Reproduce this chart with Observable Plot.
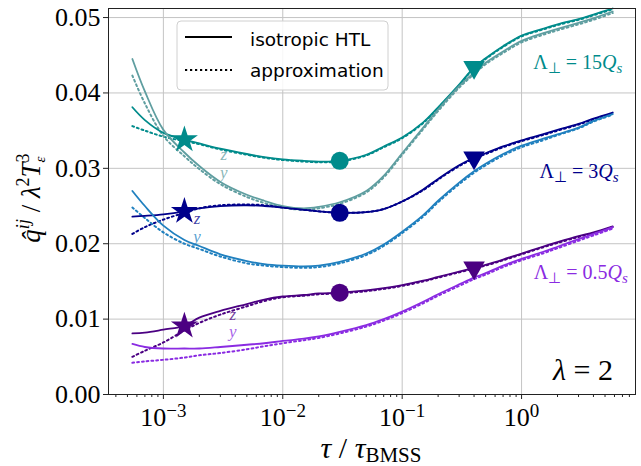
<!DOCTYPE html>
<html><head><meta charset="utf-8">
<script src="https://cdn.jsdelivr.net/npm/d3@7"></script>
<script src="https://cdn.jsdelivr.net/npm/@observablehq/plot@0.6"></script>
<style>
html,body{margin:0;padding:0;background:#fff}
#chart{width:641px;height:466px}
</style>
</head><body><div id="chart"></div>
<script>
// time axis tau / tau_BMSS
const tau = [5.5e-4, 7e-4, 1e-3, 1.5e-3, 2e-3, 3e-3, 5e-3, 7e-3, 1e-2, 1.5e-2, 2e-2, 3e-2, 5e-2, 7e-2, 0.1, 0.15, 0.2, 0.3, 0.4, 0.5, 0.7, 1, 1.5, 2, 3, 4, 5.8];

// Lambda = 15 Qs
const htl15z = [0.0381,0.0364,0.0347,0.0338,0.0333,0.0326,0.0319,0.0315,0.0312,0.0310,0.0309,0.0310,0.0318,0.0329,0.0341,0.0361,0.0381,0.0411,0.0434,0.0446,0.0462,0.0476,0.0485,0.0491,0.0498,0.0504,0.0512];
const app15z = [0.0356,0.0350,0.0342,0.0336,0.0332,0.0325,0.0318,0.0314,0.0311,0.0309,0.0308,0.0309,0.0317,0.0328,0.0340,0.0360,0.0380,0.0410,0.0433,0.0445,0.0461,0.0475,0.0484,0.0490,0.0497,0.0503,0.0511];
const htl15y = [0.0445,0.0402,0.0351,0.0321,0.0303,0.0282,0.0265,0.0257,0.0250,0.0247,0.0249,0.0255,0.0270,0.0290,0.0320,0.0354,0.0378,0.0409,0.0427,0.0440,0.0455,0.0469,0.0479,0.0485,0.0493,0.0499,0.0508];
const app15y = [0.0423,0.0386,0.0343,0.0316,0.0299,0.0279,0.0262,0.0254,0.0248,0.0245,0.0247,0.0253,0.0268,0.0288,0.0318,0.0352,0.0376,0.0407,0.0425,0.0438,0.0453,0.0467,0.0477,0.0483,0.0491,0.0497,0.0506];

// Lambda = 3 Qs
const htl3z = [0.0236,0.0237,0.0239,0.0243,0.0247,0.0250,0.0251,0.0250,0.0248,0.0245,0.0243,0.0241,0.0242,0.0246,0.0256,0.0272,0.0286,0.0304,0.0314,0.0320,0.0329,0.0337,0.0345,0.0351,0.0359,0.0366,0.0374];
const app3z = [0.0213,0.0222,0.0232,0.0241,0.0247,0.0251,0.0252,0.0251,0.0248,0.0245,0.0243,0.0241,0.0242,0.0246,0.0256,0.0271,0.0285,0.0303,0.0313,0.0319,0.0328,0.0336,0.0344,0.0350,0.0358,0.0365,0.0373];
const htl3y = [0.0270,0.0250,0.0224,0.0205,0.0197,0.0186,0.0177,0.0173,0.0171,0.0170,0.0171,0.0176,0.0187,0.0199,0.0216,0.0238,0.0257,0.0281,0.0296,0.0306,0.0319,0.0330,0.0339,0.0345,0.0354,0.0363,0.0372];
const app3y = [0.0248,0.0234,0.0215,0.0200,0.0193,0.0183,0.0174,0.0171,0.0169,0.0168,0.0169,0.0174,0.0185,0.0197,0.0214,0.0236,0.0255,0.0279,0.0294,0.0304,0.0317,0.0328,0.0337,0.0344,0.0353,0.0362,0.0371];

// Lambda = 0.5 Qs
const htl05z = [0.0081,0.0082,0.0086,0.0091,0.0102,0.0111,0.0120,0.0126,0.0130,0.0132,0.0134,0.0135,0.0138,0.0141,0.0145,0.0151,0.0156,0.0163,0.0168,0.0172,0.0179,0.0187,0.0196,0.0202,0.0210,0.0215,0.0223];
const app05z = [0.0050,0.0058,0.0069,0.0085,0.0095,0.0106,0.0117,0.0124,0.0129,0.0131,0.0133,0.0134,0.0137,0.0140,0.0144,0.0150,0.0155,0.0162,0.0167,0.0171,0.0178,0.0186,0.0195,0.0201,0.0209,0.0214,0.0222];
const htl05y = [0.0067,0.0063,0.0061,0.0061,0.0061,0.0063,0.0066,0.0068,0.0071,0.0074,0.0077,0.0083,0.0092,0.0100,0.0110,0.0123,0.0133,0.0146,0.0155,0.0161,0.0171,0.0180,0.0189,0.0196,0.0206,0.0213,0.0222];
const app05y = [0.0042,0.0044,0.0046,0.0049,0.0052,0.0055,0.0060,0.0064,0.0068,0.0072,0.0075,0.0081,0.0090,0.0098,0.0108,0.0121,0.0131,0.0144,0.0153,0.0159,0.0169,0.0178,0.0187,0.0194,0.0204,0.0211,0.0220];

// markers: star, circle, triangle times
const markerTau = [1.5e-3, 3e-2, 0.4];
const markerSymbol = ["star", "circle", "triangle"];

const lambdaLabels = ["15", "3", "0.5"];
const xMajor = [1e-3, 1e-2, 1e-1, 1];
const xMajorLabels = ["10^\u22123", "10^\u22122", "10^\u22121", "10^0"];
const yTicks = [0, 0.01, 0.02, 0.03, 0.04, 0.05];
const legendLabels = ["isotropic HTL", "approximation"];

const colors = {z15:"#008b8b", y15:"#5f9ea0", z3:"#00008b", y3:"#2080bf", z05:"#4b0082", y05:"#8a2be2"};
const SERIF = "Liberation Serif";

const series = [
  {key:"z15", htl:htl15z, app:app15z},
  {key:"y15", htl:htl15y, app:app15y},
  {key:"z3", htl:htl3z, app:app3z},
  {key:"y3", htl:htl3y, app:app3y},
  {key:"z05", htl:htl05z, app:app05z},
  {key:"y05", htl:htl05y, app:app05y}
];

const rows = (arr) => tau.map((t,i)=>({tau:t, q:arr[i]}));

const xMinor = [];
for (let e=-4; e<=0; e++) for (let m=2; m<=9; m++) { const v = m*Math.pow(10,e); if (v>3.47e-4 && v<9.0) xMinor.push(v); }

// marker rows (on the z / HTL curves)
const markers = [];
for (const s of ["z15","z3","z05"]) {
  const ser = series.find(d=>d.key===s);
  markerTau.forEach((t,j)=>{
    const i = tau.indexOf(t);
    markers.push({tau:t, q:ser.htl[i], symbol:markerSymbol[j], color:colors[s]});
  });
}

const lineMarks = [];
for (const s of series) {
  lineMarks.push(Plot.line(rows(s.app), {x:"tau", y:"q", stroke:colors[s.key], strokeWidth:2, strokeDasharray:"1.8,3", curve:"catmull-rom"}));
}
for (const s of series) {
  lineMarks.push(Plot.line(rows(s.htl), {x:"tau", y:"q", stroke:colors[s.key], strokeWidth:1.8, curve:"catmull-rom"}));
}

const chart = Plot.plot({
  width: 641, height: 466,
  marginLeft: 108, marginRight: 6, marginTop: 8, marginBottom: 72,
  style: {fontSize:"26px"},
  x: {type:"log", domain:[3.47e-4, 9.0]},
  y: {domain:[0, 0.0512]},
  marks: [
    Plot.gridX(xMajor, {stroke:"#c4c4c4", strokeOpacity:1, strokeWidth:1}),
    Plot.gridY(yTicks, {stroke:"#c4c4c4", strokeOpacity:1, strokeWidth:1}),
    Plot.axisX(xMinor, {tickSize:3, tickFormat:()=>"", label:null, stroke:"#222"}),
    Plot.axisX(xMajor, {tickSize:5, tickPadding:8, tickFormat:(d)=>xMajorLabels[xMajor.indexOf(d)], label:null, fontSize:26, fontFamily:SERIF, stroke:"#222"}),
    Plot.axisY(yTicks, {tickSize:5, tickPadding:3, tickFormat:d3.format(".2f"), label:null, fontSize:26, fontFamily:SERIF, stroke:"#222"}),
    ...lineMarks,
    Plot.dot(markers.filter(d=>d.symbol==="star"), {x:"tau", y:"q", symbol:"star", r:8.5, fill:"color", stroke:"none"}),
    Plot.dot(markers.filter(d=>d.symbol==="circle"), {x:"tau", y:"q", symbol:"circle", r:9, fill:"color", stroke:"none"}),
    Plot.dot(markers.filter(d=>d.symbol==="triangle"), {x:"tau", y:"q", symbol:"triangle", rotate:180, r:8, fill:"color", stroke:"none"}),
    Plot.frame({stroke:"#222", strokeWidth:1})
  ]
});
document.getElementById("chart").appendChild(chart);

const svg = d3.select(chart);
const X = chart.scale("x"), Y = chart.scale("y");

// superscripts on x tick labels
svg.selectAll('g[aria-label="x-axis tick label"] text').each(function(){
  const t = this.textContent;
  if (!t.includes("^")) return;
  const [b, e] = t.split("^");
  this.textContent = b;
  d3.select(this).append("tspan").attr("dy", "-0.45em").attr("font-size", "19px").text(e);
});

const g = svg.append("g").attr("text-anchor", "start").attr("font-family", SERIF);

// z / y labels
const zyLabels = [
  {tau:3.24e-3, q:0.0311, t:"z", c:colors.y15},
  {tau:3.24e-3, q:0.0287, t:"y", c:colors.y15},
  {tau:1.93e-3, q:0.0226, t:"z", c:colors.z3},
  {tau:1.93e-3, q:0.0201, t:"y", c:colors.y3},
  {tau:3.85e-3, q:0.0098, t:"z", c:colors.z05},
  {tau:3.85e-3, q:0.0075, t:"y", c:colors.y05}
];
for (const l of zyLabels) {
  g.append("text").attr("x", X.apply(l.tau)).attr("y", Y.apply(l.q)).attr("text-anchor","middle")
   .attr("font-family", SERIF).attr("font-style","italic").attr("font-size", 17).attr("fill", l.c).attr("fill-opacity", 0.75).text(l.t);
}

// Lambda labels
const lamPos = [
  {tau:7.06, q:0.0431, c:colors.z15},
  {tau:6.55, q:0.0287, c:colors.z3},
  {tau:7.85, q:0.0153, c:colors.y05}
];
lamPos.forEach((p,i)=>{
  const t = g.append("text").attr("x", X.apply(p.tau)).attr("y", Y.apply(p.q)).attr("text-anchor","end")
    .attr("font-family", SERIF).attr("font-size", 20).attr("fill", p.c);
  t.append("tspan").text("\u039B");
  t.append("tspan").attr("dy", 4).attr("font-size", 15).text("\u22A5");
  t.append("tspan").attr("dy", -4).text(" = " + lambdaLabels[i]);
  t.append("tspan").attr("font-style","italic").text("Q");
  t.append("tspan").attr("dy", 4).attr("font-size", 15).attr("font-style","italic").text("s");
});

// lambda = 2
g.append("text").attr("x", 613).attr("y", 380).attr("text-anchor","end").attr("font-family", SERIF).attr("font-size", 30)
  .html('<tspan font-style="italic">\u03BB</tspan> = 2');

// axis labels
const xl = g.append("text").attr("x", 371).attr("y", 458).attr("text-anchor","middle").attr("font-family", SERIF).attr("font-size", 30);
xl.append("tspan").attr("font-style","italic").text("\u03C4");
xl.append("tspan").text(" / ");
xl.append("tspan").attr("font-style","italic").text("\u03C4");
xl.append("tspan").attr("dy", 4).attr("font-size", 21).text("BMSS");

const yl = g.append("text").attr("transform","translate(40,198) rotate(-90)").attr("text-anchor","middle").attr("font-family", SERIF).attr("font-size", 27);
yl.append("tspan").attr("font-style","italic").text("q\u0302");
yl.append("tspan").attr("dy", -11).attr("font-size", 18).attr("font-style","italic").text("ij");
yl.append("tspan").attr("dy", 11).text(" / ");
yl.append("tspan").attr("font-style","italic").text("\u03BB");
yl.append("tspan").attr("dy", -11).attr("font-size", 18).text("2");
yl.append("tspan").attr("dy", 11).attr("font-style","italic").text("T");
yl.append("tspan").attr("dy", -11).attr("font-size", 18).text("3");
yl.append("tspan").attr("dy", 16).attr("dx", -9).attr("font-size", 15).attr("font-style","italic").text("\u03B5");

// legend
const lg = svg.append("g").attr("text-anchor", "start");
lg.append("rect").attr("x", 177).attr("y", 21).attr("width", 211).attr("height", 69).attr("rx", 4)
  .attr("fill", "white").attr("fill-opacity", 0.85).attr("stroke", "#d0d0d0");
lg.append("line").attr("x1", 185).attr("x2", 232).attr("y1", 37).attr("y2", 37).attr("stroke","black").attr("stroke-width", 2.2);
lg.append("line").attr("x1", 185).attr("x2", 232).attr("y1", 70).attr("y2", 70).attr("stroke","black").attr("stroke-width", 2.2).attr("stroke-dasharray","2.2,2.8");
lg.append("text").attr("x", 250).attr("y", 46).attr("font-size", 18.5).attr("font-family", "DejaVu Sans").text(legendLabels[0]);
lg.append("text").attr("x", 250).attr("y", 77).attr("font-size", 18.5).attr("font-family", "DejaVu Sans").text(legendLabels[1]);
</script>
</body></html>
